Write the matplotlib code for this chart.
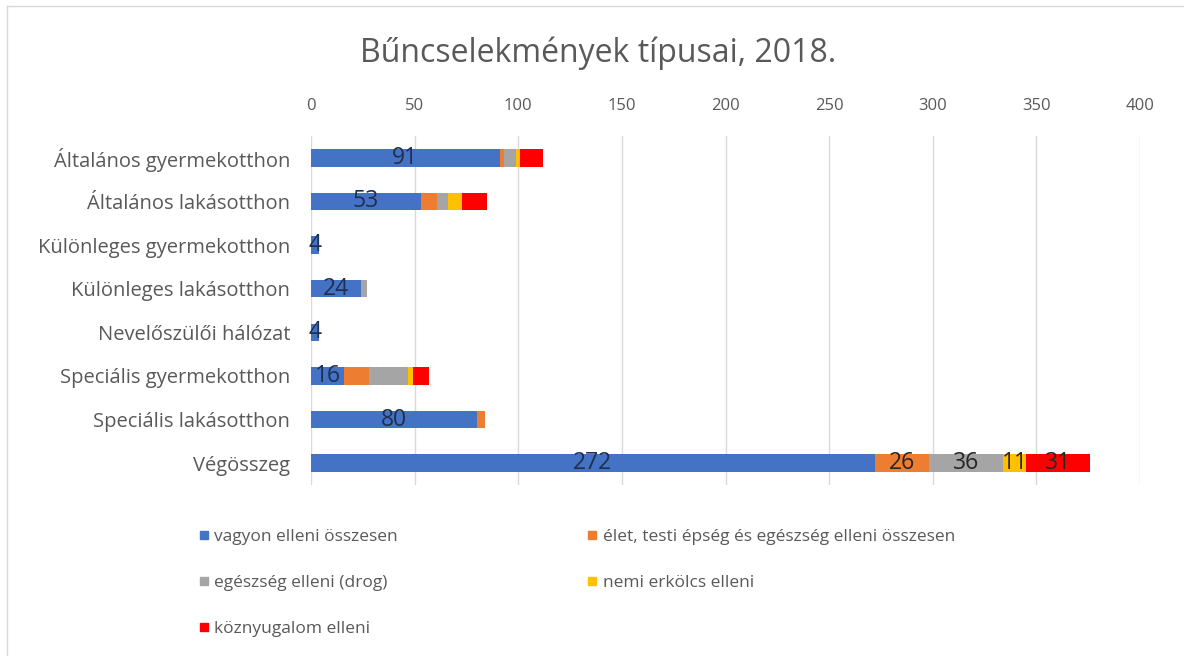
import matplotlib
matplotlib.use('Agg')
import matplotlib.pyplot as plt
from matplotlib.lines import Line2D
import numpy as np

plt.rcParams['font.family'] = ['Open Sans', 'DejaVu Sans']

categories = ['Általános gyermekotthon', 'Általános lakásotthon', 'Különleges gyermekotthon',
              'Különleges lakásotthon', 'Nevelőszülői hálózat', 'Speciális gyermekotthon',
              'Speciális lakásotthon', 'Végösszeg']
series_names = ['vagyon elleni összesen', 'élet, testi épség és egészség elleni összesen',
                'egészség elleni (drog)', 'nemi erkölcs elleni', 'köznyugalom elleni']
vagyon = [91, 53, 4, 24, 4, 16, 80, 272]
elet = [2, 8, 0, 0, 0, 12, 4, 26]
drog = [6, 5, 0, 3, 0, 19, 0, 36]
nemi = [2, 7, 0, 0, 0, 2, 0, 11]
koznyugalom = [11, 12, 0, 0, 0, 8, 0, 31]
colors = ['#4472C4', '#ED7D31', '#A5A5A5', '#FFC000', '#FF0000']
xticks = [0, 50, 100, 150, 200, 250, 300, 350, 400]

fig = plt.figure(figsize=(11.84, 6.56), dpi=100)
ax = fig.add_axes([311 / 1184, 1 - 485 / 656, (1140 - 311) / 1184, (485 - 136) / 656])

y = np.arange(len(categories))
left = np.zeros(len(categories))
data = [vagyon, elet, drog, nemi, koznyugalom]
for i, (vals, col) in enumerate(zip(data, colors)):
    bars = ax.barh(y, vals, left=left, height=0.4, color=col, zorder=3)
    if i == 0:
        labels = [str(v) for v in vals]
        ax.bar_label(bars, labels=labels, label_type='center', fontsize=16.5,
                     color='#1F2F4F', zorder=4)
    else:
        labels = [''] * (len(vals) - 1) + [str(vals[-1])]
        ax.bar_label(bars, labels=labels, label_type='center', fontsize=16.5,
                     color='#262626', zorder=4)
    left += np.array(vals)

ax.set_xlim(0, 400)
ax.set_ylim(len(categories) - 0.5, -0.5)
ax.set_xticks(xticks)
ax.set_yticks(y)
ax.set_yticklabels(categories)
ax.xaxis.tick_top()
ax.tick_params(axis='both', length=0, colors='#595959')
ax.tick_params(axis='x', labelsize=12, pad=16)
ax.tick_params(axis='y', labelsize=14.5, pad=15)
ax.grid(axis='x', color='#D9D9D9', linewidth=1, zorder=0)
for s in ax.spines.values():
    s.set_visible(False)

fig.suptitle('Bűncselekmények típusai, 2018.', x=598 / 1184, y=1 - 37 / 656,
             fontsize=23, color='#595959', va='top')

handles = [Line2D([], [], marker='s', linestyle='none', markersize=6,
                  markerfacecolor=c, markeredgecolor=c) for c in colors]
order = [0, 2, 4, 1, 3]
fig.legend([handles[i] for i in order], [series_names[i] for i in order],
           ncol=2, loc='upper left', bbox_to_anchor=(190 / 1184, 1 - 520 / 656),
           frameon=False, fontsize=12.5, labelcolor='#595959', handlelength=0.6,
           handletextpad=0.3, labelspacing=1.72, columnspacing=10.9, borderpad=0)

# light border of the chart area
fig.add_artist(plt.Line2D([7 / 1184, 7 / 1184], [0, 1 - 6 / 656], transform=fig.transFigure,
                          color='#D9D9D9', linewidth=1))
fig.add_artist(plt.Line2D([7 / 1184, 1], [1 - 6 / 656, 1 - 6 / 656], transform=fig.transFigure,
                          color='#D9D9D9', linewidth=1))

fig.savefig('out.png', dpi=100)
